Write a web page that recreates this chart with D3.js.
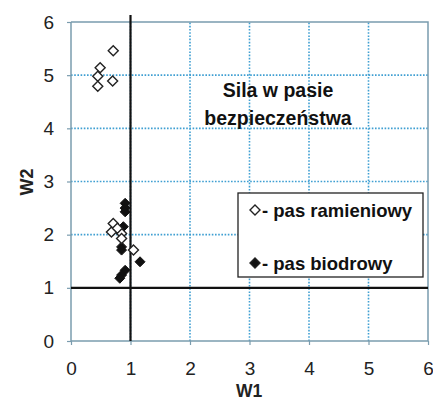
<!DOCTYPE html>
<html><head><meta charset="utf-8">
<script src="https://d3js.org/d3.v7.min.js"></script>
<style>body{margin:0;background:#fff}svg{display:block}</style>
</head><body>
<script>
const xTicks = [0,1,2,3,4,5,6];
const yTicks = [0,1,2,3,4,5,6];
const ramieniowyX = [0.71,0.49,0.45,0.70,0.45, 0.71,0.68,0.85,0.85,0.78,1.05];
const ramieniowyY = [5.46,5.14,4.98,4.89,4.79, 2.21,2.05,2.02,1.93,2.12,1.71];
const biodrowyX = [0.91,0.91,0.91,0.88,0.85,0.85,1.16,0.91,0.85,0.82];
const biodrowyY = [2.59,2.50,2.43,2.15,1.77,1.71,1.49,1.33,1.24,1.18];
const titleLines = ["Sila w pasie","bezpieczeństwa"];
const legendLabels = ["- pas ramieniowy","- pas biodrowy"];

const W=433,H=401;
const svg=d3.select("body").append("svg").attr("width",W).attr("height",H);
const x=d3.scaleLinear().domain([0,6]).range([71,428]);
const y=d3.scaleLinear().domain([0,6]).range([341,22]);
const gridC="#3f9fd2", axC="#7a9cae";
const font="Liberation Sans, Arial, sans-serif";

// gridlines
svg.append("g").selectAll("line").data(xTicks.filter(d=>d>0&&d<6)).join("line")
 .attr("x1",d=>x(d)).attr("x2",d=>x(d)).attr("y1",y(0)).attr("y2",y(6))
 .attr("stroke",gridC).attr("stroke-width",1.6).attr("stroke-dasharray","1.6,1.6");
svg.append("g").selectAll("line").data(yTicks.filter(d=>d>0&&d<6)).join("line")
 .attr("y1",d=>y(d)).attr("y2",d=>y(d)).attr("x1",x(0)).attr("x2",x(6))
 .attr("stroke",gridC).attr("stroke-width",1.6).attr("stroke-dasharray","1.6,1.6");
// frame top/right
svg.append("path").attr("d",`M${x(0)},${y(6)}H${x(6)}V${y(0)}`).attr("fill","none").attr("stroke",axC).attr("stroke-width",1.5);

// axes
const xa=svg.append("g").attr("transform",`translate(0,${y(0)})`)
 .call(d3.axisBottom(x).tickValues(xTicks).tickFormat(d3.format("d")).tickSize(4).tickPadding(17));
const ya=svg.append("g").attr("transform",`translate(${x(0)},0)`)
 .call(d3.axisLeft(y).tickValues(yTicks).tickFormat(d3.format("d")).tickSize(4).tickPadding(13));
[xa,ya].forEach(g=>{
 g.select(".domain").attr("stroke",axC).attr("stroke-width",1.5);
 g.selectAll(".tick line").attr("stroke",axC).attr("stroke-width",1.2);
 g.selectAll("text").attr("font-family",font).attr("font-size",19).attr("fill","#222");
});
ya.select(".domain").attr("d",`M0,${y(0)}V${y(6)}`);
xa.select(".domain").attr("d",`M${x(0)},0H${x(6)}`);

// reference lines
svg.append("line").attr("x1",x(1)).attr("x2",x(1)).attr("y1",y(0)).attr("y2",y(6.13))
 .attr("stroke","#111").attr("stroke-width",2.2);
svg.append("line").attr("x1",x(0)).attr("x2",x(6)).attr("y1",y(1)).attr("y2",y(1))
 .attr("stroke","#111").attr("stroke-width",2.2);

// axis titles
svg.append("text").attr("x",249).attr("y",397).attr("text-anchor","middle")
 .attr("font-family",font).attr("font-size",17.5).attr("font-weight","bold").attr("fill","#222").text("W1");
svg.append("text").attr("transform",`translate(33,182) rotate(-90)`).attr("text-anchor","middle")
 .attr("font-family",font).attr("font-size",18).attr("font-weight","bold").attr("fill","#222").text("W2");

// diamond symbol
const diamond={draw(ctx,size){const r=Math.sqrt(size)/2*Math.SQRT2;ctx.moveTo(0,-r);ctx.lineTo(r,0);ctx.lineTo(0,r);ctx.lineTo(-r,0);ctx.closePath();}};
const sym=d3.symbol().type(diamond).size(50);

// points
const open=ramieniowyX.map((v,i)=>({x:v,y:ramieniowyY[i]}));
const filled=biodrowyX.map((v,i)=>({x:v,y:biodrowyY[i]}));
svg.append("g").selectAll("path").data(filled).join("path")
 .attr("d",sym).attr("transform",d=>`translate(${x(d.x)},${y(d.y)})`).attr("fill","#111").attr("stroke","#111");
svg.append("g").selectAll("path").data(open).join("path")
 .attr("d",sym).attr("transform",d=>`translate(${x(d.x)},${y(d.y)})`).attr("fill","#fff").attr("stroke","#222").attr("stroke-width",1.4);

// title text
const tt=svg.append("text").attr("text-anchor","middle").attr("font-family",font)
 .attr("font-size",19.5).attr("font-weight","bold").attr("fill","#111");
titleLines.forEach((t,i)=>tt.append("tspan").attr("x",278).attr("y",97+i*28).text(t));

// legend
const lg=svg.append("g");
lg.append("rect").attr("x",238).attr("y",193).attr("width",185).attr("height",84)
 .attr("fill","#fff").attr("stroke","#222").attr("stroke-width",1.3);
legendLabels.forEach((t,i)=>{
 const cy=[210,263][i];
 lg.append("path").attr("d",sym).attr("transform",`translate(255,${cy})`)
  .attr("fill",i===0?"#fff":"#111").attr("stroke","#222").attr("stroke-width",1.4);
 lg.append("text").attr("x",262).attr("y",cy+6.5).attr("font-family",font).attr("font-size",18.5)
  .attr("font-weight","bold").attr("fill","#111").text(t);
});
</script>
</body></html>
